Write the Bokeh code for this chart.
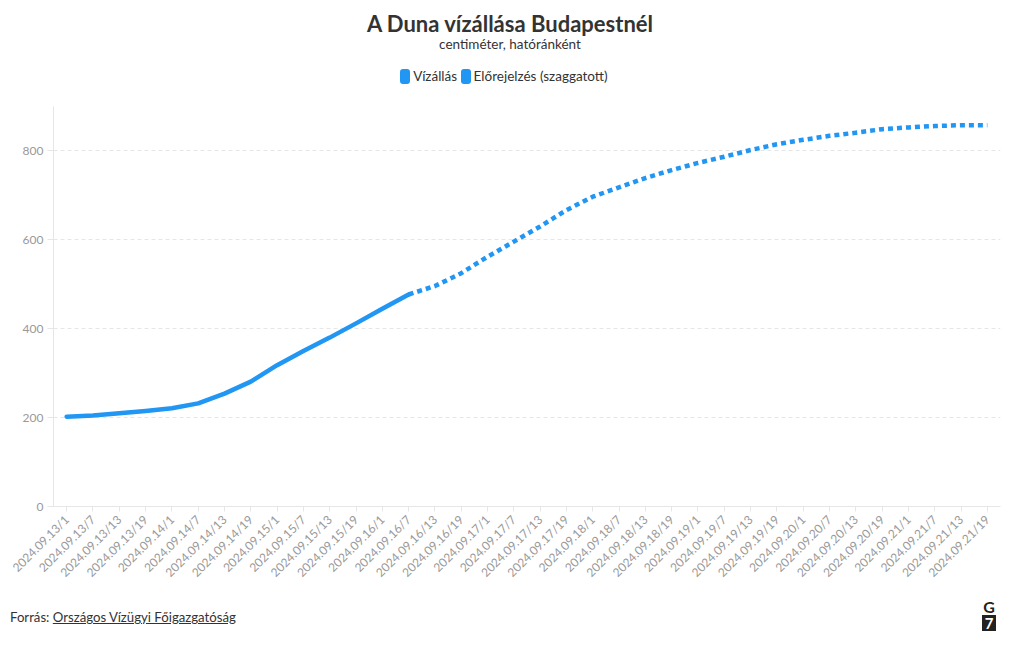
import math
from bokeh.plotting import figure
from bokeh.models import FactorRange, Range1d, FixedTicker, ColumnDataSource, Div
from bokeh.layouts import column
from bokeh.embed import file_html
from bokeh.resources import INLINE

# ---------------- data ----------------
days = ["13", "14", "15", "16", "17", "18", "19", "20", "21"]
hours = ["1", "7", "13", "19"]
labels = [f"2024.09.{d}/{h}" for d in days for h in hours]

# measured water level (cm), 6-hourly, 2024.09.13/1 .. 2024.09.16/7
water = [202, 205, 210, 215, 221, 232, 254, 281, 318, 350, 380, 412, 445, 477]
# forecast (cm), 2024.09.16/7 .. 2024.09.21/19
forecast = [477, 496, 525, 562, 596, 630, 667, 697, 718, 739, 757, 773, 787,
            802, 815, 825, 834, 841, 849, 853, 856, 858, 858]

title_text = "A Duna vízállása Budapestnél"
subtitle_text = "centiméter, hatóránként"
legend_labels = ["Vízállás", "Előrejelzés (szaggatott)"]
source_prefix = "Forrás:"
source_name = "Országos Vízügyi Főigazgatóság"
y_ticks = [0, 200, 400, 600, 800]

BLUE = "#2196f3"
FONT = "Lato"
W = 1020
HEAD_H, FIG_H, FOOT_H = 100, 500, 50

# ---------------- header ----------------
swatch = (f'<span style="display:inline-block;width:10px;height:15px;background:{BLUE};'
          'border-radius:3px;vertical-align:-3px;margin-right:3px"></span>')
header = Div(width=W, height=HEAD_H, margin=0, text=f"""
<div style="position:relative;width:{W}px;height:{HEAD_H}px;font-family:{FONT};color:#333333">
  <div style="position:absolute;left:0;top:10px;width:{W}px;text-align:center;
              font-size:22px;font-weight:bold;line-height:27px">{title_text}</div>
  <div style="position:absolute;left:0;top:36px;width:{W}px;text-align:center;
              font-size:13.5px;line-height:17px">{subtitle_text}</div>
  <div style="position:absolute;left:-6px;top:68px;width:{W}px;text-align:center;
              font-size:13.5px;line-height:17px;white-space:nowrap">
    {swatch}{legend_labels[0]}&nbsp;{swatch}{legend_labels[1]}
  </div>
</div>""")

# ---------------- chart ----------------
p = figure(width=W, height=FIG_H, x_range=FactorRange(*labels), y_range=Range1d(0, 900),
           output_backend="svg", toolbar_location=None, margin=0,
           min_border_left=53, min_border_right=20, min_border_top=6,
           min_border_bottom=94)
p.outline_line_color = None
p.background_fill_color = "white"

n_w = len(water)
src_w = ColumnDataSource(dict(x=labels[:n_w], y=water))
src_f = ColumnDataSource(dict(x=labels[n_w - 1:n_w - 1 + len(forecast)], y=forecast))
p.line("x", "y", source=src_w, line_color=BLUE, line_width=4.5,
       line_cap="round", line_join="round")
p.line("x", "y", source=src_f, line_color=BLUE, line_width=4.5,
       line_dash="5 4", line_cap="butt", line_join="round")

p.xgrid.grid_line_color = None
p.ygrid.grid_line_color = "#e6e6e6"
p.ygrid.grid_line_dash = "4 3"
p.ygrid.ticker = FixedTicker(ticks=y_ticks[1:])

p.yaxis.ticker = FixedTicker(ticks=y_ticks)
p.yaxis.axis_line_color = "#e6e6e6"
p.yaxis.major_tick_line_color = "#e6e6e6"
p.yaxis.major_tick_in = 0
p.yaxis.major_tick_out = 6
p.yaxis.minor_tick_line_color = None
p.yaxis.major_label_text_color = "#999999"
p.yaxis.major_label_text_font = FONT
p.yaxis.major_label_text_font_size = "12px"
p.yaxis.major_label_standoff = 4

p.xaxis.axis_line_color = "#e6e6e6"
p.xaxis.major_tick_line_color = "#e6e6e6"
p.xaxis.major_tick_in = 0
p.xaxis.major_tick_out = 5
p.xaxis.major_label_text_color = "#999999"
p.xaxis.major_label_text_font = FONT
p.xaxis.major_label_text_font_size = "12px"
p.xaxis.major_label_orientation = math.pi / 4
p.xaxis.major_label_standoff = 6

# ---------------- footer ----------------
footer = Div(width=W, height=FOOT_H, margin=0, text=f"""
<div style="position:relative;width:{W}px;height:{FOOT_H}px;font-family:{FONT};color:#333333">
  <div style="position:absolute;left:10px;top:9px;font-size:13.2px;line-height:17px;white-space:nowrap">
    {source_prefix} <span style="text-decoration:underline">{source_name}</span></div>
  <div style="position:absolute;left:982px;top:-1px;width:14px;text-align:center;
              font-size:16px;font-weight:bold;line-height:16px;color:#222222">G</div>
  <div style="position:absolute;left:982px;top:15px;width:14px;height:16px;background:#222222;
              text-align:center;font-size:15px;font-weight:bold;line-height:16px;color:white">7</div>
</div>""")

layout = column(header, p, footer, spacing=0, margin=0)
open("out.html", "w").write(file_html(layout, INLINE))
